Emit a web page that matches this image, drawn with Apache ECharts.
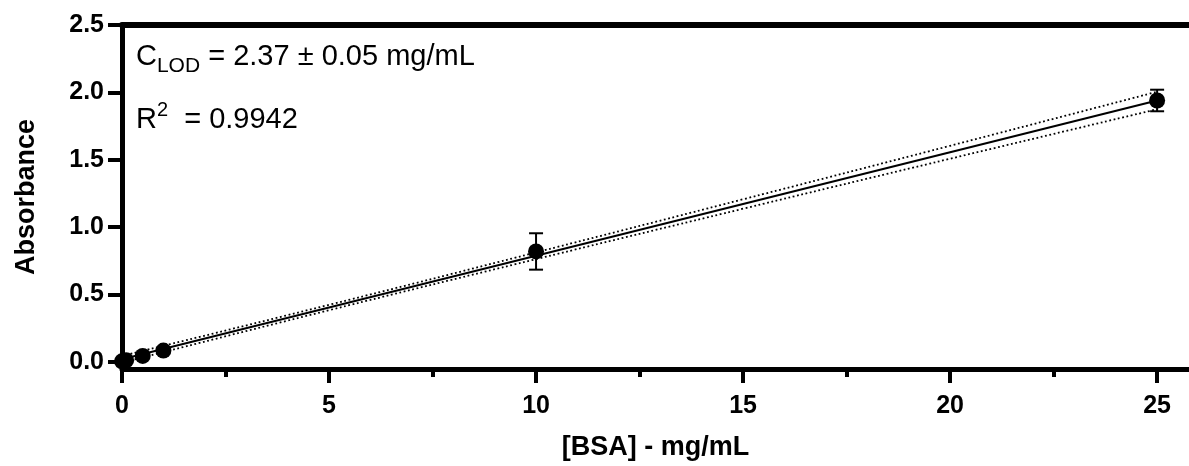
<!DOCTYPE html>
<html>
<head>
<meta charset="utf-8">
<script src="https://cdn.jsdelivr.net/npm/echarts@6/dist/echarts.min.js"></script>
<style>
html,body{margin:0;padding:0;background:#fff;}
#chart{width:1189px;height:466px;}
</style>
</head>
<body>
<div id="chart"></div>
<script>
// ---- data ----
const concX    = [0, 0.1, 0.5, 1, 10, 25];
const absMean  = [0.005, 0.012, 0.045, 0.085, 0.82, 1.94];
const absSD    = [0.004, 0.004, 0.006, 0.008, 0.135, 0.08];
const fitX     = [0, 5, 10, 15, 20, 25];
const fitY     = [0.02, 0.404, 0.788, 1.172, 1.556, 1.94];
const bandUpper= [0.045, 0.424, 0.813, 1.207, 1.604, 2.005];
const bandLower= [-0.005, 0.384, 0.763, 1.137, 1.508, 1.875];
const xMajorTicks = [0, 5, 10, 15, 20, 25];
const xMinorTicks = [2.5, 7.5, 12.5, 17.5, 22.5];
const yTicks   = [0, 0.5, 1.0, 1.5, 2.0, 2.5];
const xName = '[BSA] - mg/mL';
const yName = 'Absorbance';
const lodText = ['C', 'LOD', ' = 2.37 \u00b1 0.05 mg/mL'];
const r2Text  = ['R', '2', '  = 0.9942'];

const FONT = '"Liberation Sans", Arial, Helvetica, sans-serif';
const X_MAX = 25.77, Y_MIN = -0.052, Y_MAX = 2.5;
const zip = (a, b) => a.map((v, i) => [v, b[i]]);

const chart = echarts.init(document.getElementById('chart'), null, {renderer: 'canvas'});

const boldLabel = {color: '#000', fontFamily: FONT, fontWeight: 'bold', fontSize: 25};
const nameStyle = {color: '#000', fontFamily: FONT, fontWeight: 'bold', fontSize: 27};

const option = {
  animation: false,
  backgroundColor: '#fff',
  grid: {left: 122, right: 0, top: 25, bottom: 96},
  xAxis: [
    {
      type: 'value', position: 'bottom', min: 0, max: X_MAX,
      axisLine: {show: true, onZero: false, lineStyle: {color: '#000', width: 5}},
      axisTick: {show: true, customValues: xMajorTicks, length: 14, lineStyle: {color: '#000', width: 4}},
      axisLabel: Object.assign({customValues: xMajorTicks, margin: 25}, boldLabel),
      splitLine: {show: false},
      name: xName, nameLocation: 'middle', nameGap: 65,
      nameTextStyle: nameStyle
    },
    {
      type: 'value', position: 'bottom', min: 0, max: X_MAX,
      axisLine: {show: false, onZero: false},
      axisTick: {show: true, customValues: xMinorTicks, length: 8, lineStyle: {color: '#000', width: 4}},
      axisLabel: {show: false},
      splitLine: {show: false}
    },
    {
      type: 'value', position: 'top', min: 0, max: X_MAX,
      axisLine: {show: true, onZero: false, lineStyle: {color: '#000', width: 6}},
      axisTick: {show: false},
      axisLabel: {show: false},
      splitLine: {show: false}
    }
  ],
  yAxis: {
    type: 'value', min: Y_MIN, max: Y_MAX,
    axisLine: {show: true, onZero: false, lineStyle: {color: '#000', width: 5}},
    axisTick: {show: true, customValues: yTicks, length: 14, lineStyle: {color: '#000', width: 4}},
    axisLabel: Object.assign({customValues: yTicks, margin: 18, formatter: v => v.toFixed(1)}, boldLabel),
    splitLine: {show: false},
    name: yName, nameLocation: 'middle', nameRotate: 90, nameGap: 82,
    nameTextStyle: nameStyle
  },
  series: [
    {
      type: 'line', data: zip(fitX, bandUpper), symbol: 'none', smooth: true, silent: true,
      lineStyle: {color: '#000', width: 1.8, type: [1.8, 2.6]}
    },
    {
      type: 'line', data: zip(fitX, bandLower), symbol: 'none', smooth: true, silent: true,
      lineStyle: {color: '#000', width: 1.8, type: [1.8, 2.6]}
    },
    {
      type: 'line', data: zip(fitX, fitY), symbol: 'none', silent: true,
      lineStyle: {color: '#000', width: 2}
    },
    {
      type: 'custom', clip: false, silent: true,
      data: concX.map((x, i) => [x, absMean[i], absSD[i]]),
      encode: {x: 0, y: 1},
      renderItem: function (params, api) {
        const x = api.value(0), m = api.value(1), s = api.value(2);
        const hi = api.coord([x, m + s]);
        const lo = api.coord([x, m - s]);
        const cw = 7;
        const st = {stroke: '#000', lineWidth: 2};
        return {
          type: 'group',
          children: [
            {type: 'line', shape: {x1: hi[0], y1: hi[1], x2: lo[0], y2: lo[1]}, style: st},
            {type: 'line', shape: {x1: hi[0] - cw, y1: hi[1], x2: hi[0] + cw, y2: hi[1]}, style: st},
            {type: 'line', shape: {x1: lo[0] - cw, y1: lo[1], x2: lo[0] + cw, y2: lo[1]}, style: st}
          ]
        };
      }
    },
    {
      type: 'scatter', clip: false, silent: true,
      data: zip(concX, absMean),
      symbol: 'circle', symbolSize: 16,
      itemStyle: {color: '#000', opacity: 1}
    }
  ],
  graphic: [
    {
      type: 'text', left: 136, top: 42, silent: true,
      style: {
        text: '{m|' + lodText[0] + '}{sub|' + lodText[1] + '}{m|' + lodText[2] + '}',
        rich: {
          m: {fontFamily: FONT, fontSize: 29, color: '#000', lineHeight: 40},
          sub: {fontFamily: FONT, fontSize: 21, color: '#000', lineHeight: 20, verticalAlign: 'bottom'}
        }
      }
    },
    {
      type: 'text', left: 136, top: 100, silent: true,
      style: {
        text: '{m|' + r2Text[0] + '}{sup|' + r2Text[1] + '}{m|' + r2Text[2] + '}',
        rich: {
          m: {fontFamily: FONT, fontSize: 29, color: '#000', lineHeight: 40},
          sup: {fontFamily: FONT, fontSize: 20, color: '#000', lineHeight: 25, verticalAlign: 'top'}
        }
      }
    }
  ]
};
chart.setOption(option);
</script>
</body>
</html>
